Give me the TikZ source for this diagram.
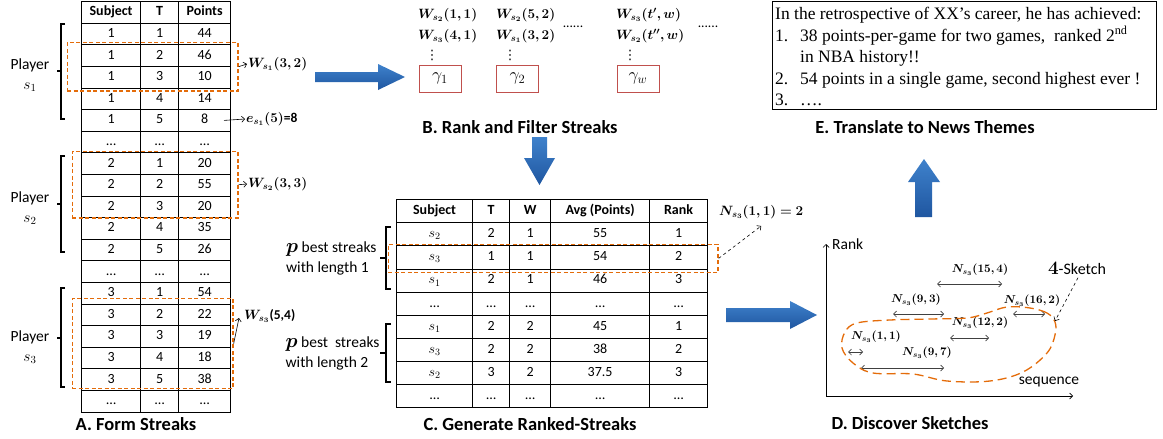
\RequirePackage{fix-cm}
\documentclass[tikz,border=0pt]{standalone}
\usepackage{amsmath}
\usepackage{bm}
\usepackage[no-math]{fontspec}
\setmainfont{Carlito}
\newfontfamily\newsfont{Liberation Serif}
\newfontfamily\dotsfont{DejaVu Sans}
\usetikzlibrary{positioning,matrix,fit,arrows.meta}
\definecolor{streakorange}{HTML}{E46C0A}
\definecolor{gammared}{HTML}{C0504D}
\definecolor{flowlight}{HTML}{3F82CC}
\definecolor{flowdark}{HTML}{1F56A0}

\begin{document}
\begin{tikzpicture}[x=1pt, y=-1pt, node distance=4pt,
  >={Straight Barb[length=3pt,width=6pt]},
  cell/.style={draw, line width=0.8pt, anchor=center, inner sep=0pt, text height=9.5pt, text depth=2.5pt, font=\fontsize{14}{16}\selectfont},
  streak/.style={draw=streakorange, line width=1.3pt, dash pattern=on 4pt off 2.5pt, inner sep=0pt},
  gammabox/.style={draw=gammared, line width=1pt, minimum width=42pt, minimum height=27pt, font=\fontsize{18}{20}\selectfont},
  caption/.style={font=\fontsize{18.5}{20}\selectfont\bfseries},
  wlabel/.style={font=\fontsize{13.5}{16}\selectfont, inner sep=1pt},
  nlabel/.style={font=\fontsize{11.5}{14}\selectfont, inner sep=1pt},
  vdot/.style={inner sep=0pt, font=\dotsfont\fontsize{13}{14}\selectfont},
  side/.style={font=\fontsize{15.5}{20}\selectfont, align=left},
  brace/.style={line width=1.3pt},
  pointer/.style={->, line width=0.6pt},
  span/.style={<->, line width=0.7pt, draw=black!75},
  flow/.style={top color=flowlight, bottom color=flowdark, draw=none}]
  \useasboundingbox (0,0) rectangle (1163,439);

  % A. per-game points of every player
  \matrix (form) [matrix of nodes, nodes in empty cells, anchor=north west, inner sep=0pt,
    row sep=-0.8pt, column sep=-0.8pt, nodes={cell, minimum height=21.6pt},
    column 1/.style={nodes={minimum width=59pt}},
    column 2/.style={nodes={minimum width=38pt}},
    column 3/.style={nodes={minimum width=52pt}},
    row 1/.style={nodes={font=\fontsize{14}{16}\selectfont\bfseries}}] at (81,1)
  {
    Subject & T & Points \\
    1 & 1 & 44 \\
    1 & 2 & 46 \\
    1 & 3 & 10 \\
    1 & 4 & 14 \\
    1 & 5 & 8 \\
    \ldots & \ldots & \ldots \\
    2 & 1 & 20 \\
    2 & 2 & 55 \\
    2 & 3 & 20 \\
    2 & 4 & 35 \\
    2 & 5 & 26 \\
    \ldots & \ldots & \ldots \\
    3 & 1 & 54 \\
    3 & 2 & 22 \\
    3 & 3 & 19 \\
    3 & 4 & 18 \\
    3 & 5 & 38 \\
    \ldots & \ldots & \ldots \\
  };

  \draw[brace] (65,24) -| (61,119) -- (65,119) (61,71) -- (57,71);
  \draw[brace] (65,156) -| (61,252) -- (65,252) (61,204) -- (57,204);
  \draw[brace] (65,288) -| (61,387) -- (65,387) (61,338) -- (57,338);
  \node[side, align=center] (p1) at (30,75) {Player\\$s_1$};
  \node[side, align=center] (p2) at (30,208) {Player\\$s_2$};
  \node[side, align=center] (p3) at (30,347) {Player\\$s_3$};

  \node[streak, fit={([xshift=-14pt,yshift=2pt]form-3-1.north west) ([xshift=7pt,yshift=-2.5pt]form-4-3.south east)}] (w1box) {};
  \node[streak, fit={([xshift=-9pt,yshift=1pt]form-8-1.north west) ([xshift=7pt]form-10-3.south east)}] (w2box) {};
  \node[streak, fit={([xshift=-9pt,yshift=5pt]form-15-1.north west) ([xshift=2pt,yshift=2pt]form-18-3.south east)}] (w3box) {};

  \node[wlabel, anchor=west] (ws1) at (247,64) {$\bm{W_{s_1}(3,2)}$};
  \node[wlabel, anchor=west] (es1) at (245,119) {$\bm{e_{s_1}(5)}$\textbf{=8}};
  \node[wlabel, anchor=west] (ws2) at (247,184) {$\bm{W_{s_2}(3,3)}$};
  \node[wlabel, anchor=west] (ws3) at (243,316) {$\bm{W_{s_3}}$\textbf{(5,4)}};
  \draw[pointer] (w1box.east) -- (ws1.west);
  \draw[pointer] ([xshift=-7pt]form-6-3.east) -- (es1.west);
  \draw[pointer] (w2box.east) -- (ws2.west);
  \draw[pointer] (w3box.east) -- ([shift={(-4,2)}]ws3.west);

  \node[caption] (capA) at (136,424) {A. Form Streaks};

  % B. streaks grouped by length
  \node[wlabel, anchor=west] (w11) at (417,15) {$\bm{W_{s_2}(1,1)}$};
  \node[wlabel, anchor=west] (w12) at (417,36) {$\bm{W_{s_3}(4,1)}$};
  \node[vdot] (v1) at (432,55) {⋮};
  \node[gammabox] (g1) at (440,78.5) {$\gamma_1$};
  \node[wlabel, anchor=west] (w21) at (495,15) {$\bm{W_{s_2}(5,2)}$};
  \node[wlabel, anchor=west] (w22) at (495,36) {$\bm{W_{s_1}(3,2)}$};
  \node[vdot] (v2) at (510,55) {⋮};
  \node[gammabox] (g2) at (517.5,78.5) {$\gamma_2$};
  \node[wlabel, anchor=west] (ww1) at (615,15) {$\bm{W_{s_3}(t',w)}$};
  \node[wlabel, anchor=west] (ww2) at (615,36) {$\bm{W_{s_2}(t'',w)}$};
  \node[vdot] (v3) at (630,55) {⋮};
  \node[gammabox] (gw) at (638,78.5) {$\gamma_w$};
  \node[wlabel] (more1) at (573,27) {......};
  \node[wlabel] (more2) at (708,27) {......};

  \node[caption] (capB) at (520,127) {B. Rank and Filter Streaks};

  % C. best streaks for every length
  \matrix (rank) [matrix of nodes, nodes in empty cells, anchor=north west, inner sep=0pt,
    row sep=-0.8pt, column sep=-0.8pt, nodes={cell, minimum height=23.1pt},
    column 1/.style={nodes={minimum width=76pt}},
    column 2/.style={nodes={minimum width=37pt}},
    column 3/.style={nodes={minimum width=41pt}},
    column 4/.style={nodes={minimum width=99pt}},
    column 5/.style={nodes={minimum width=58pt}},
    row 1/.style={nodes={font=\fontsize{14}{16}\selectfont\bfseries}}] at (396,199)
  {
    Subject & T & W & Avg (Points) & Rank \\
    $s_2$ & 2 & 1 & 55 & 1 \\
    $s_3$ & 1 & 1 & 54 & 2 \\
    $s_1$ & 2 & 1 & 46 & 3 \\
    \ldots & \ldots & \ldots & \ldots & \ldots \\
    $s_1$ & 2 & 2 & 45 & 1 \\
    $s_3$ & 2 & 2 & 38 & 2 \\
    $s_2$ & 3 & 2 & 37.5 & 3 \\
    \ldots & \ldots & \ldots & \ldots & \ldots \\
  };

  \draw[brace] (391,227) -| (386,289) -- (391,289) (386,258) -- (380,258);
  \draw[brace] (391,324) -| (386,382) -- (391,382) (386,353) -- (380,353);
  \node[side, anchor=east] (len1) at (380,258) {{\fontsize{20}{20}\selectfont$\bm{p}$} best streaks\\with length 1};
  \node[side, anchor=east] (len2) at (383,353) {{\fontsize{20}{20}\selectfont$\bm{p}$} best\ \ streaks\\with length 2};

  \node[streak, fit={([xshift=-8pt,yshift=1pt]rank-3-1.north west) ([xshift=10pt,yshift=-3pt]rank-3-5.south east)}] (n11box) {};
  \node[wlabel, anchor=west] (n11) at (718,212) {$\bm{N_{s_3}(1,1)=2}$};
  \draw[pointer, dashed] (n11box.east) -- ([yshift=-6pt]n11.south);

  \node[caption] (capC) at (530,424) {C. Generate Ranked-Streaks};

  % D. streaks of one player laid out as a sketch
  \coordinate (origin) at (826,396);
  \coordinate (ytop) at (826,244);
  \coordinate (xend) at (1073,396);
  \draw[->, line width=0.7pt] (origin) -- (ytop);
  \draw[->, line width=0.7pt] (origin) -- (xend);
  \node[side, anchor=west, inner sep=0pt] (rankax) at (832,244) {Rank};
  \node[side, inner sep=0pt] (seqax) at (1049,382) {sequence};

  \node[nlabel] (n154) at (980,270) {$\bm{N_{s_3}(15,4)}$};
  \node[nlabel] (n93) at (916,300) {$\bm{N_{s_3}(9,3)}$};
  \node[nlabel] (n162) at (1032,301) {$\bm{N_{s_3}(16,2)}$};
  \node[nlabel] (n122) at (980,323) {$\bm{N_{s_3}(12,2)}$};
  \node[nlabel] (n11d) at (876,337) {$\bm{N_{s_3}(1,1)}$};
  \node[nlabel] (n97) at (927,353) {$\bm{N_{s_3}(9,7)}$};
  \draw[span] (937,284) -- (1002,284);
  \draw[span] (893,314) -- (944,314);
  \draw[span] (1013,314) -- (1045,314);
  \draw[span] (950,338) -- (989,338);
  \draw[span] (848,352) -- (863,352);
  \draw[span] (861,368) -- (944,368);

  \draw[streak, dash pattern=on 9pt off 5pt] plot[smooth cycle, tension=0.6] coordinates {
    (1055,322) (1047,313) (1030,308) (1007,307) (987,313) (967,318) (930,319) (890,320)
    (857,323) (845,332) (842,348) (853,363) (873,373) (913,374) (947,381) (990,381)
    (1023,372) (1047,353) (1055,335)};

  \node[font=\fontsize{16}{18}\selectfont] (sketch) at (1077,268) {{\fontsize{19}{20}\selectfont$\bm{4}$}-Sketch};
  \coordinate (sketchtip) at (1055,321);
  \draw[pointer, dashed] ([xshift=1pt]sketch.south) -- (sketchtip);

  \node[caption] (capD) at (910,423) {D. Discover Sketches};

  % E. generated news text
  \node[draw, line width=0.8pt, anchor=north west, minimum width=384pt, minimum height=108pt, inner sep=0pt] (newsbox) at (772,1) {};
  \node[anchor=north west, align=left, inner sep=0pt, font=\newsfont\fontsize{17.5}{21.5}\selectfont] (news) at (775,7)
  {In the retrospective of XX’s career, he has achieved:\\
   \makebox[25pt][l]{1.}38 points-per-game for two games,\ \ ranked 2\textsuperscript{nd}\\
   \hspace*{25pt}in NBA history!!\\
   \makebox[25pt][l]{2.}54 points in a single game, second highest ever !\\
   \makebox[25pt][l]{3.}….};

  \node[caption] (capE) at (925,127) {E. Translate to News Themes};

  % block arrows between the stages
  \path[flow] (315,72) -- (378,72) -- (378,64) -- (405,77) -- (378,90) -- (378,82) -- (315,82) -- cycle;
  \path[flow] (532,137) -- (547,137) -- (547,158) -- (555,158) -- (539.5,185) -- (524,158) -- (532,158) -- cycle;
  \path[flow] (726,308) -- (790,308) -- (790,301) -- (817,315) -- (790,329) -- (790,322) -- (726,322) -- cycle;
  \path[flow] (915,217) -- (915,182) -- (908,182) -- (924,159) -- (940,182) -- (932,182) -- (932,217) -- cycle;
\end{tikzpicture}
\end{document}
